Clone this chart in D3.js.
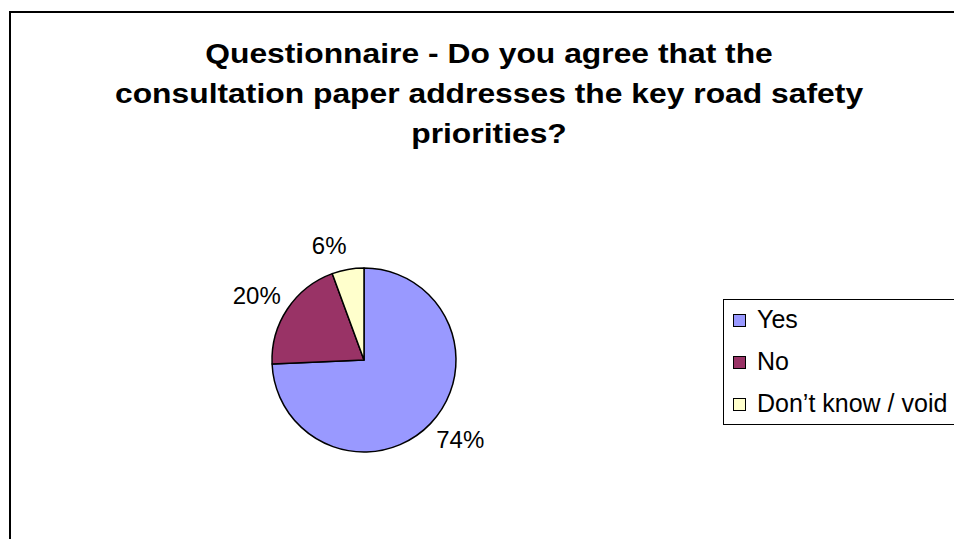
<!DOCTYPE html>
<html>
<head>
<meta charset="utf-8">
<script src="https://cdn.jsdelivr.net/npm/d3@7"></script>
<style>
  html, body { margin: 0; padding: 0; background: #fff; }
  svg { display: block; }
</style>
</head>
<body>
<svg id="chart" width="954" height="539"></svg>
<script>
const titleLines = [
  "Questionnaire - Do you agree that the",
  "consultation paper addresses the key road safety",
  "priorities?"
];
const categories = ["Yes", "No", "Don\u2019t know / void"];
const values = [74.3, 20.1, 5.6];
const colors = ["#9999FF", "#993366", "#FFFFCC"];

const svg = d3.select("#chart");
const W = 954, H = 539;

svg.append("rect").attr("width", W).attr("height", H).attr("fill", "#fff");

// outer chart border (extends beyond right and bottom)
svg.append("rect")
  .attr("x", 10).attr("y", 12)
  .attr("width", W + 20).attr("height", H + 20)
  .attr("fill", "#fff").attr("stroke", "#000").attr("stroke-width", 2);

// title (slightly widened glyphs, like the reference)
const titleG = svg.append("g").attr("transform", "translate(489,0) scale(1.137,1)");
titleG.selectAll("text").data(titleLines).join("text")
  .attr("x", 0)
  .attr("y", (d, i) => 63 + i * 40)
  .attr("text-anchor", "middle")
  .attr("font-family", "Liberation Sans, Arial, sans-serif")
  .attr("font-weight", "bold")
  .attr("font-size", 28)
  .attr("fill", "#000")
  .text(d => d);

// pie
const cx = 364, cy = 360, r = 92;
const total = d3.sum(values);
const pie = d3.pie().sort(null).value(d => d)(values);
const arc = d3.arc().innerRadius(0).outerRadius(r);
const pg = svg.append("g").attr("transform", `translate(${cx},${cy})`);
pg.selectAll("path").data(pie).join("path")
  .attr("d", arc)
  .attr("fill", (d, i) => colors[i])
  .attr("stroke", "#000")
  .attr("stroke-width", 1.5)
  .attr("stroke-linejoin", "round");

const fmt = d3.format(".0%");
const labelFont = 24;
pg.selectAll("text.lbl").data(pie).join("text")
  .attr("class", "lbl")
  .attr("font-family", "Liberation Sans, Arial, sans-serif")
  .attr("font-size", labelFont)
  .attr("fill", "#000")
  .attr("text-anchor", "middle")
  .text(d => fmt(d.value / total))
  .each(function(d) {
    const a = (d.startAngle + d.endAngle) / 2;
    const dx = Math.sin(a), dy = -Math.cos(a);
    const w = this.getComputedTextLength();
    const h = labelFont * 0.9;
    const x = dx * (r + 8) + Math.sign(dx) * w / 2;
    const y = dy * (r + 13) + dy * h / 2;
    d3.select(this).attr("x", x).attr("y", y + labelFont * 0.35);
  });

// legend
const lg = svg.append("g");
lg.append("rect")
  .attr("x", 723.5).attr("y", 299.5)
  .attr("width", 300).attr("height", 125)
  .attr("fill", "#fff").attr("stroke", "#000").attr("stroke-width", 1);
const rows = lg.selectAll("g.row").data(categories).join("g")
  .attr("class", "row")
  .attr("transform", (d, i) => `translate(0,${328 + i * 42})`);
rows.append("rect")
  .attr("x", 733.5).attr("y", -13.5)
  .attr("width", 12).attr("height", 12)
  .attr("fill", (d, i) => colors[i])
  .attr("stroke", "#000").attr("stroke-width", 1);
rows.append("text")
  .attr("x", 757).attr("y", 0)
  .attr("font-family", "Liberation Sans, Arial, sans-serif")
  .attr("font-size", 25)
  .attr("fill", "#000")
  .text(d => d);
</script>
</body>
</html>
